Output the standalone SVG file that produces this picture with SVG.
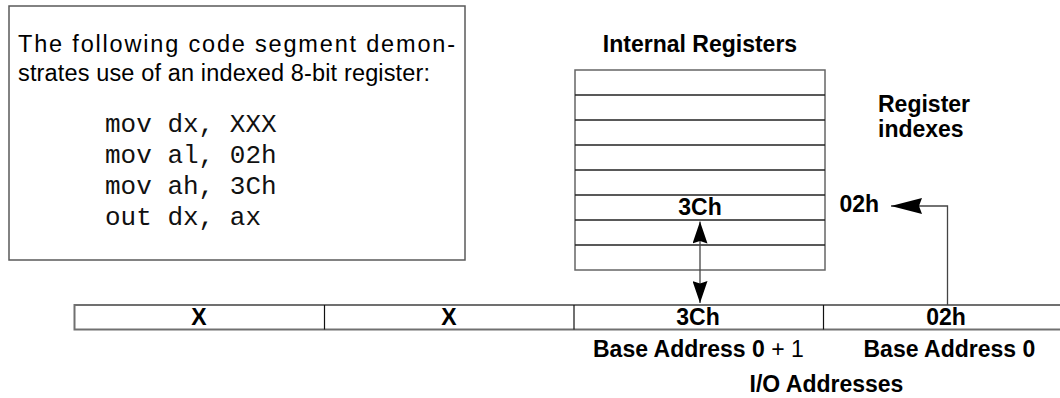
<svg xmlns="http://www.w3.org/2000/svg" width="1060" height="398" viewBox="0 0 1060 398">
  <style>
    .sans { font-family: "Liberation Sans", Arial, sans-serif; fill: #000; }
    .b { font-weight: bold; font-size: 23px; }
    .n { font-size: 23.5px; }
    .mono { font-family: "Liberation Mono", "Courier New", monospace; font-size: 26px; fill: #111; }
    .frame { fill: #fff; stroke: #5a5a5a; stroke-width: 1.5; }
    .reg { fill: #fff; stroke: #666; stroke-width: 1.5; }
    .rowline { stroke: #222; stroke-width: 1.4; }
    .bus { fill: #fff; stroke: #707070; stroke-width: 2; }
    .div { stroke: #111; stroke-width: 1.2; }
    .conn { fill: none; stroke: #444; stroke-width: 1.3; }
    .mid { text-anchor: middle; }
  </style>
  <defs>
    <marker id="ahSmall" viewBox="0 0 22 15" refX="22" refY="7.5" markerWidth="22" markerHeight="15" markerUnits="userSpaceOnUse" orient="auto-start-reverse">
      <path d="M0,0 L22,7.5 L0,15 L2.5,7.5 Z" fill="#000"/>
    </marker>
    <marker id="ahLarge" viewBox="0 0 31 16" refX="31" refY="8" markerWidth="31" markerHeight="16" markerUnits="userSpaceOnUse" orient="auto">
      <path d="M0,0 L31,8 L0,16 L3,8 Z" fill="#000"/>
    </marker>
  </defs>

  <g id="code-box">
    <rect class="frame" x="9" y="6" width="456" height="254"/>
    <text class="sans n" x="18" y="52" textLength="437" lengthAdjust="spacing">The following code segment demon-</text>
    <text class="sans n" x="18" y="80.5" textLength="412" lengthAdjust="spacing">strates use of an indexed 8-bit register:</text>
    <text class="mono" x="105" y="131.5">mov dx, XXX</text>
    <text class="mono" x="105" y="162.5">mov al, 02h</text>
    <text class="mono" x="105" y="194">mov ah, 3Ch</text>
    <text class="mono" x="105" y="225">out dx, ax</text>
  </g>

  <g id="internal-registers">
    <text class="sans b mid" x="700" y="52">Internal Registers</text>
    <rect class="reg" x="575" y="70" width="250" height="200"/>
    <line class="rowline" x1="575" y1="95" x2="825" y2="95"/>
    <line class="rowline" x1="575" y1="120" x2="825" y2="120"/>
    <line class="rowline" x1="575" y1="145" x2="825" y2="145"/>
    <line class="rowline" x1="575" y1="170" x2="825" y2="170"/>
    <line class="rowline" x1="575" y1="195" x2="825" y2="195"/>
    <line class="rowline" x1="575" y1="220" x2="825" y2="220"/>
    <line class="rowline" x1="575" y1="245" x2="825" y2="245"/>
    <text class="sans b mid" x="700" y="215">3Ch</text>
  </g>

  <g id="register-indexes">
    <text class="sans b" x="878" y="112">Register</text>
    <text class="sans b" x="878" y="137">indexes</text>
    <text class="sans b" x="839.5" y="212">02h</text>
  </g>

  <g id="io-bus">
    <rect class="bus" x="74.5" y="305" width="1000" height="24.5"/>
    <line class="div" x1="324.5" y1="305" x2="324.5" y2="329.5"/>
    <line class="div" x1="574" y1="305" x2="574" y2="329.5"/>
    <line class="div" x1="823.5" y1="305" x2="823.5" y2="329.5"/>
    <g id="cell-x1"><text class="sans b mid" x="199" y="325">X</text></g>
    <g id="cell-x2"><text class="sans b mid" x="449" y="325">X</text></g>
    <g id="cell-3ch"><text class="sans b mid" x="698" y="325">3Ch</text></g>
    <g id="cell-02h"><text class="sans b mid" x="946" y="325">02h</text></g>
  </g>

  <g id="address-labels">
    <text class="sans b" x="593" y="357">Base Address 0<tspan font-weight="normal"> + 1</tspan></text>
    <text class="sans b" x="863.5" y="357">Base Address 0</text>
    <text class="sans b mid" x="826.5" y="392">I/O Addresses</text>
  </g>

  <g id="connectors">
    <line class="conn" x1="700" y1="221.5" x2="700" y2="303" marker-start="url(#ahSmall)" marker-end="url(#ahSmall)"/>
    <polyline class="conn" points="947.5,305 947.5,206 891,206" marker-end="url(#ahLarge)"/>
  </g>
</svg>
